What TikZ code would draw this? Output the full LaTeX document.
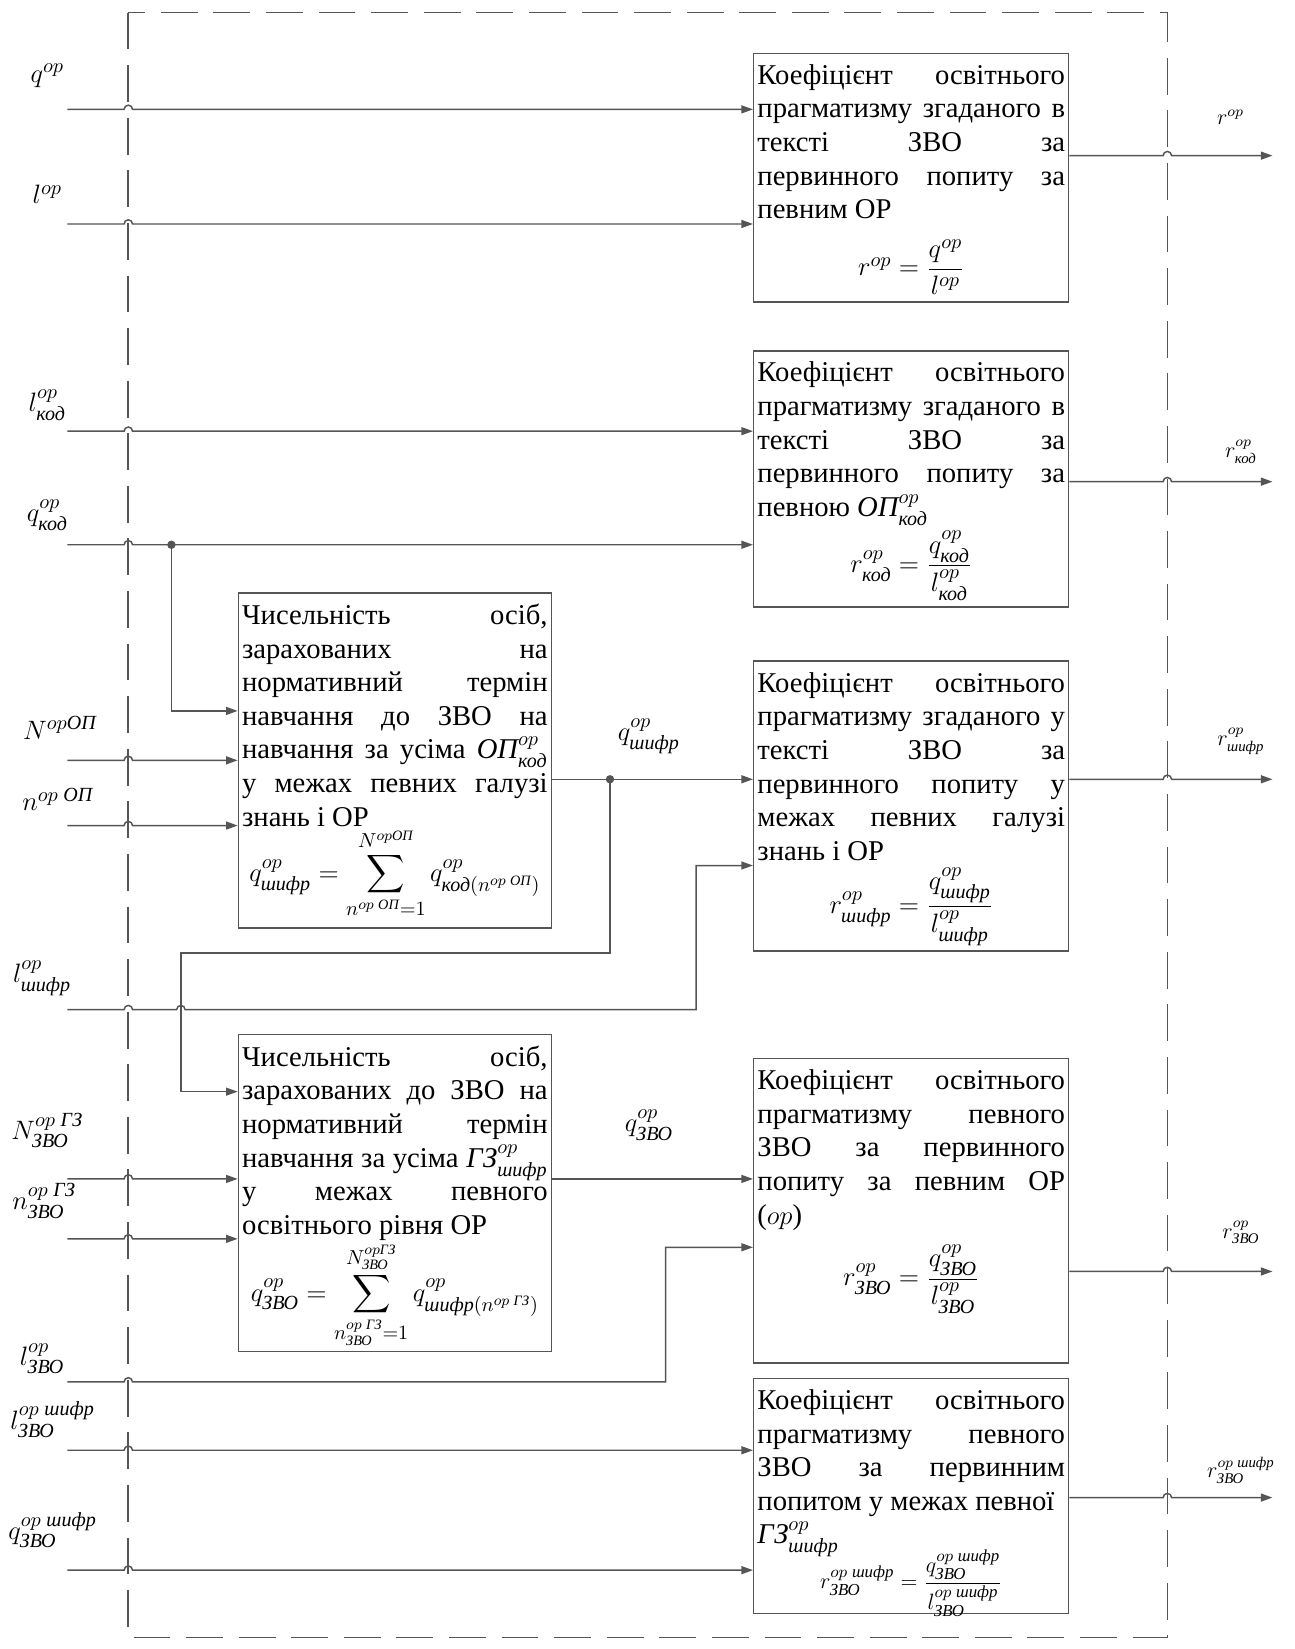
\documentclass[tikz,border=0pt]{standalone}
\usepackage{amsmath}
\usepackage{fontspec}
\setmainfont{Liberation Serif}
\usetikzlibrary{arrows.meta,calc}
\definecolor{lin}{HTML}{555555}
\newcommand{\ct}[1]{\text{\itshape #1}}
\newcommand{\hop}{arc[start angle=180,end angle=0,radius=.08]}
\newcommand{\vmist}[3]{\parbox[t][#1][t]{#2}{\vspace*{4pt}\tolerance=10000\hbadness=10000\hyphenpenalty=10000 #3}}
\tikzset{>={Triangle[length=2.2mm,width=1.5mm]},every node/.style={font=\fontsize{15.5}{18.2}\selectfont},flow/.style={draw=lin,line width=.8pt,->},edge/.style={draw=lin,line width=.8pt},blok/.style={draw=lin,line width=.8pt,anchor=north west,inner sep=2pt},vyhid/.style={font=\fontsize{12}{14}\selectfont}}

\begin{document}
\begin{tikzpicture}
\useasboundingbox (0,0) rectangle (24.62,-31.36);
\draw[lin,line width=.9pt,dash pattern=on .7cm off .3cm] (2.44,-.24) rectangle (22.2,-31.14);
\coordinate (L) at (2.44,0);\coordinate (R) at (22.2,0);
% bloky koefitsientiv (pravoruch) i chyselnosti (livoruch)
\node[blok] (k1) at (14.32,-1) {\vmist{4.59cm}{5.85cm}{Коефіцієнт освітнього\linebreak прагматизму згаданого в\linebreak тексті ЗВО за\linebreak первинного попиту за\linebreak певним ОР\par\vspace{10pt}\centering$r^{op}=\dfrac{q^{op}}{l^{op}}$}};
\node[blok] (k2) at (14.32,-6.66) {\vmist{4.73cm}{5.85cm}{Коефіцієнт освітнього\linebreak прагматизму згаданого в\linebreak тексті ЗВО за\linebreak первинного попиту за\linebreak певною $\ct{ОП}^{op}_{\ct{код}}$\par\vspace{2pt}\centering$r^{op}_{\ct{код}}=\dfrac{q^{op}_{\ct{код}}}{l^{op}_{\ct{код}}}$}};
\node[blok] (c1) at (4.52,-11.26) {\vmist{6.23cm}{5.81cm}{Чисельність осіб,\linebreak зарахованих на\linebreak нормативний термін\linebreak навчання до ЗВО на\linebreak навчання за усіма $\ct{ОП}^{op}_{\ct{код}}$\linebreak у межах певних галузі\linebreak знань і ОР\par\centering$\displaystyle q^{op}_{\ct{шифр}}=\sum_{n^{op\;\ct{ОП}}=1}^{N^{op\ct{ОП}}}q^{op}_{\ct{код}(n^{op\;\ct{ОП}})}$}};
\node[blok] (k3) at (14.32,-12.56) {\vmist{5.37cm}{5.85cm}{Коефіцієнт освітнього\linebreak прагматизму згаданого у\linebreak тексті ЗВО за\linebreak первинного попиту у\linebreak межах певних галузі\linebreak знань і ОР\par\vspace{3pt}\centering$r^{op}_{\ct{шифр}}=\dfrac{q^{op}_{\ct{шифр}}}{l^{op}_{\ct{шифр}}}$}};
\node[blok] (c2) at (4.52,-19.66) {\vmist{5.89cm}{5.81cm}{Чисельність осіб,\linebreak зарахованих до ЗВО на\linebreak нормативний термін\linebreak навчання за усіма $\ct{ГЗ}^{op}_{\ct{шифр}}$\linebreak у межах певного\linebreak освітнього рівня ОР\par\centering$\displaystyle q^{op}_{\ct{ЗВО}}=\sum_{n^{op\;\ct{ГЗ}}_{\ct{ЗВО}}=1}^{N^{op\ct{ГЗ}}_{\ct{ЗВО}}}q^{op}_{\ct{шифр}(n^{op\;\ct{ГЗ}})}$}};
\node[blok] (k4) at (14.32,-20.12) {\vmist{5.65cm}{5.85cm}{Коефіцієнт освітнього\linebreak прагматизму певного\linebreak ЗВО за первинного\linebreak попиту за певним ОР\linebreak ($op$)\par\vspace{7pt}\centering$r^{op}_{\ct{ЗВО}}=\dfrac{q^{op}_{\ct{ЗВО}}}{l^{op}_{\ct{ЗВО}}}$}};
\node[blok] (k5) at (14.32,-26.2) {\vmist{4.33cm}{5.85cm}{Коефіцієнт освітнього\linebreak прагматизму певного\linebreak ЗВО за первинним\linebreak попитом у межах певної\newline $\ct{ГЗ}^{op}_{\ct{шифр}}$\par\vspace{-5pt}\centering\fontsize{13}{15}\selectfont$r^{op\;\ct{шифр}}_{\ct{ЗВО}}=\dfrac{q^{op\;\ct{шифр}}_{\ct{ЗВО}}}{l^{op\;\ct{шифр}}_{\ct{ЗВО}}}$}};
% vkhidni velychyny
\node (lq) at (.9,-1.44) {$q^{op}$};\node (ll) at (.9,-3.7) {$l^{op}$};
\node (llk) at (.9,-7.7) {$l^{op}_{\ct{код}}$};\node (lqk) at (.9,-9.8) {$q^{op}_{\ct{код}}$};
\node (lN1) at (1.14,-13.84) {$N^{op\ct{ОП}}$};\node (ln1) at (1.1,-15.2) {$n^{op\;\ct{ОП}}$};
\node (llsh) at (.8,-18.6) {$l^{op}_{\ct{шифр}}$};
\node (lN2) at (.9,-21.5) {$N^{op\;\ct{ГЗ}}_{\ct{ЗВО}}$};\node (ln2) at (.84,-22.84) {$n^{op\;\ct{ГЗ}}_{\ct{ЗВО}}$};
\node (llz) at (.8,-25.84) {$l^{op}_{\ct{ЗВО}}$};\node (llzs) at (1,-27) {$l^{op\;\ct{шифр}}_{\ct{ЗВО}}$};\node (lqzs) at (1,-29.1) {$q^{op\;\ct{шифр}}_{\ct{ЗВО}}$};
\node (lqsh) at (12.34,-14) {$q^{op}_{\ct{шифр}}$};\node (lqz) at (12.34,-21.4) {$q^{op}_{\ct{ЗВО}}$};
\coordinate (iq) at (1.28,-2.08);\coordinate (il) at (1.28,-4.26);\coordinate (ilk) at (1.28,-8.2);\coordinate (iqk) at (1.28,-10.36);
\coordinate (iN1) at (1.28,-14.46);\coordinate (in1) at (1.28,-15.7);\coordinate (ilsh) at (1.28,-19.2);
\coordinate (iN2) at (1.28,-22.42);\coordinate (in2) at (1.28,-23.56);\coordinate (ilz) at (1.28,-26.28);\coordinate (ilzs) at (1.28,-27.58);\coordinate (iqzs) at (1.28,-29.86);
\foreach \a/\b in {iq/k1,il/k1,ilk/k2,iqk/k2,iN1/c1,in1/c1,iN2/c2,in2/c2,ilzs/k5,iqzs/k5}
  \draw[flow] (\a) -- ($(\a-|L)-(.08,0)$) \hop -- (\a-|\b.west);
% rozgaluzhennia
\coordinate (d1) at (3.26,-10.36);\coordinate (d2) at (11.6,-14.82);\coordinate (v1) at (3.44,-18.12);\coordinate (v2) at (13.24,-19.2);\coordinate (v3) at (12.66,-26.28);
\draw[flow] (d1) |- ($(c1.north west)+(0,-2.26)$);\fill[lin] (d1) circle (.08);
\draw[edge] (c1.east|-d2) -- (d2);\draw[flow] (d2) -- (d2-|k3.west);\fill[lin] (d2) circle (.08);
\draw[flow] (d2) |- (v1) |- ($(c2.north west)+(0,-1.1)$);
\draw[flow] (ilsh) -- ($(ilsh-|L)-(.08,0)$) \hop -- ($(ilsh-|v1)-(.08,0)$) \hop -- (v2) |- ($(k3.north west)+(0,-3.9)$);
\draw[flow] (c2.east|-iN2) -- (iN2-|k4.west);
\draw[flow] (ilz) -- ($(ilz-|L)-(.08,0)$) \hop -- (v3) |- ($(k4.north west)+(0,-3.6)$);
% vykhidni velychyny
\coordinate (o1) at (24.2,-2.96);\coordinate (o2) at (24.2,-9.16);\coordinate (o3) at (24.2,-14.82);\coordinate (o4) at (24.2,-24.18);\coordinate (o5) at (24.2,-28.48);
\foreach \a/\b in {o1/k1,o2/k2,o3/k3,o4/k4,o5/k5}
  \draw[flow] (\b.east|-\a) -- ($(\a-|R)-(.08,0)$) \hop -- (\a);
\node[vyhid] (r1) at (23.4,-2.24) {$r^{op}$};\node[vyhid] (r2) at (23.6,-8.6) {$r^{op}_{\ct{код}}$};\node[vyhid] (r3) at (23.6,-14.1) {$r^{op}_{\ct{шифр}}$};
\node[vyhid] (r4) at (23.6,-23.44) {$r^{op}_{\ct{ЗВО}}$};\node[vyhid] (r5) at (23.6,-27.96) {$r^{op\;\ct{шифр}}_{\ct{ЗВО}}$};
\end{tikzpicture}
\end{document}
